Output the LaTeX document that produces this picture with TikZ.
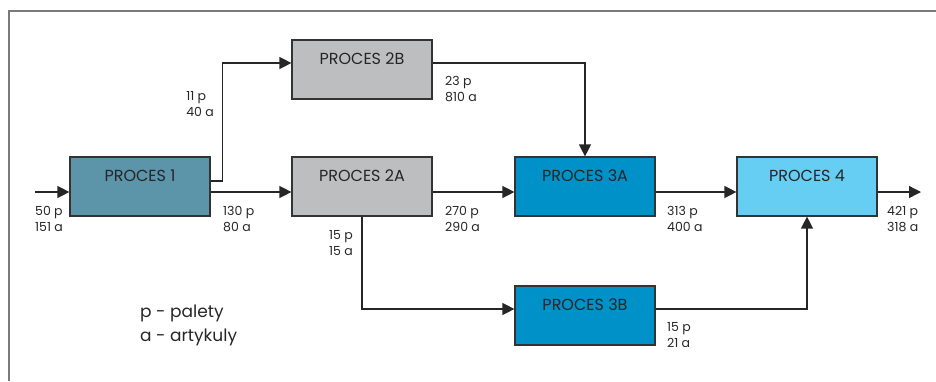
\documentclass[tikz,border=0pt]{standalone}
\usepackage{fontspec}
\setmainfont{Poppins}
\usetikzlibrary{arrows.meta,calc}
\definecolor{pOne}{HTML}{5C94A9}
\definecolor{pGrey}{HTML}{BDBEC0}
\definecolor{pBlue}{HTML}{0091C8}
\definecolor{pLight}{HTML}{66CDF3}
\definecolor{frameGrey}{HTML}{7A7A7A}
\definecolor{edgeGrey}{HTML}{333333}
\begin{document}
\begin{tikzpicture}[x=1pt,y=-1pt,
  procbox/.style={draw=edgeGrey,line width=1.2pt,rectangle,minimum width=140pt,
    inner xsep=0pt,inner ysep=6pt,text height=18pt,text depth=29pt,
    font=\fontsize{16}{16}\selectfont,text=black!85},
  arr/.style={line width=1.3pt,draw=black!85,-{Triangle[length=12pt,width=12pt]}},
  flow/.style={font=\fontsize{12.5}{16}\selectfont,align=left,inner sep=0pt,text=black!85},
  ]
\useasboundingbox (0,0) rectangle (936,381);
\draw[frameGrey,line width=1.8pt] (9,381) -- (9,11) -- (936,11);

\node[procbox,fill=pOne]   (p1)  at (140,186.5) {PROCES 1};
\node[procbox,fill=pGrey]  (p2b) at (362,69.5)  {PROCES 2B};
\node[procbox,fill=pGrey]  (p2a) at (362,186.5) {PROCES 2A};
\node[procbox,fill=pBlue]  (p3a) at (585,186.5) {PROCES 3A};
\node[procbox,fill=pLight] (p4)  at (807,186.5) {PROCES 4};
\node[procbox,fill=pBlue]  (p3b) at (585,315.5) {PROCES 3B};

\coordinate (in)  at (35,192);
\coordinate (out) at (921,192);

\draw[arr] (in) -- ([yshift=-5.5pt]p1.west);
\draw[arr] ([yshift=-5.5pt]p1.east) -- ([yshift=-5.5pt]p2a.west);
\draw[arr] ([yshift=5.5pt]p1.east) -- ++(12,0) |- ([yshift=6.5pt]p2b.west);
\draw[arr] ([yshift=6.5pt]p2b.east) -| (p3a.north);
\draw[arr] ([yshift=-5.5pt]p2a.east) -- ([yshift=-5.5pt]p3a.west);
\draw[arr] ([yshift=-5.5pt]p3a.east) -- ([yshift=-5.5pt]p4.west);
\draw[arr] ([yshift=-5.5pt]p4.east) -- (out);
\draw[arr] (p2a.south) |- ([yshift=6.5pt]p3b.west);
\draw[arr] ([yshift=6.5pt]p3b.east) -| (p4.south);

\node[flow,anchor=north west] (l1) at (35,206) {50 p\\151 a};
\node[flow,anchor=north west] (l2) at (223,206) {130 p\\80 a};
\node[flow,anchor=north east] (l3) at (214,91) {11 p\\40 a};
\node[flow,anchor=north west] (l4) at (445,76) {23 p\\810 a};
\node[flow,anchor=north west] (l5) at (445,206) {270 p\\290 a};
\node[flow,anchor=north east] (l6) at (353,230) {15 p\\15 a};
\node[flow,anchor=north west] (l7) at (667,206) {313 p\\400 a};
\node[flow,anchor=north west] (l8) at (887,206) {421 p\\318 a};
\node[flow,anchor=north west] (l9) at (667,322) {15 p\\21 a};

\node[anchor=north west,align=left,inner sep=0pt,font=\fontsize{17}{24}\selectfont,text=black!85] (leg) at (140,305) {p - palety\\a - artykuly};
\end{tikzpicture}
\end{document}
